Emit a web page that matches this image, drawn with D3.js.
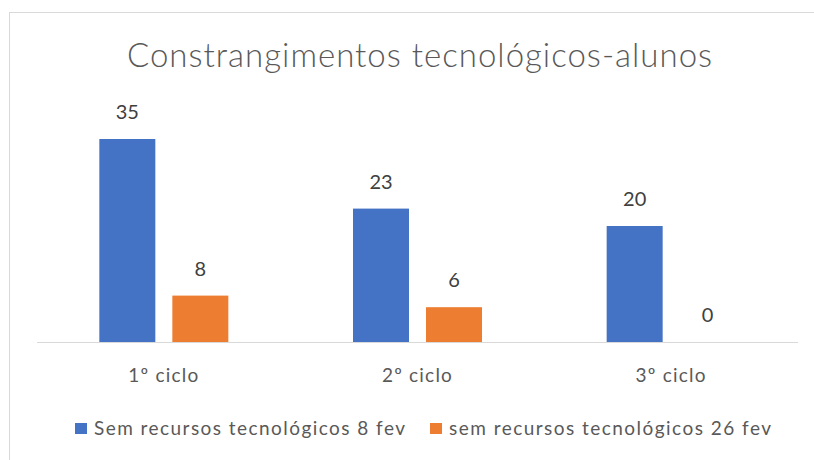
<!DOCTYPE html>
<html>
<head>
<meta charset="utf-8">
<script src="https://cdn.jsdelivr.net/npm/d3@7"></script>
<style>
  body { margin: 0; background: #ffffff; }
  svg { display: block; font-family: Lato, "Open Sans", sans-serif; }
</style>
</head>
<body>
<div id="chart"></div>
<script>
// Chart data
const categories = ["1º ciclo", "2º ciclo", "3º ciclo"];
const seriesNames = ["Sem recursos tecnológicos 8 fev", "sem recursos tecnológicos 26 fev"];
const fev8 = [35, 23, 20];
const fev26 = [8, 6, 0];
const colors = ["#4472C4", "#ED7D31"];

const width = 814, height = 460;
const plot = { left: 37, right: 798, top: 110, bottom: 342 };

const svg = d3.select("#chart").append("svg")
  .attr("width", width)
  .attr("height", height);

// Chart area border (clipped by the picture on the right and bottom).
svg.append("rect")
  .attr("x", 9.5).attr("y", 12.5)
  .attr("width", 900).attr("height", 500)
  .attr("fill", "#ffffff")
  .attr("stroke", "#D9D9D9")
  .attr("stroke-width", 1);

// Title
svg.append("text")
  .attr("x", 420)
  .attr("y", 67)
  .attr("text-anchor", "middle")
  .attr("font-size", "33px")
  .attr("font-weight", 300)
  .attr("letter-spacing", "1px")
  .attr("fill", "#595959")
  .text("Constrangimentos tecnológicos-alunos");

// Scales
const x0 = d3.scaleBand()
  .domain(categories)
  .range([plot.left, plot.right]);
const groupWidth = 129;
const x1 = d3.scaleBand()
  .domain([0, 1])
  .range([(x0.bandwidth() - groupWidth) / 2, (x0.bandwidth() + groupWidth) / 2])
  .paddingInner(0.233);
const y = d3.scaleLinear()
  .domain([0, 40])
  .range([plot.bottom, plot.top]);

const rows = categories.map((c, i) => ({ cat: c, values: [fev8[i], fev26[i]] }));

const groups = svg.selectAll(".group")
  .data(rows)
  .join("g")
  .attr("class", "group")
  .attr("transform", d => `translate(${x0(d.cat)},0)`);

groups.selectAll("rect")
  .data(d => d.values.map((v, s) => ({ v, s })))
  .join("rect")
  .attr("x", d => x1(d.s))
  .attr("y", d => y(d.v))
  .attr("width", x1.bandwidth())
  .attr("height", d => y(0) - y(d.v))
  .attr("fill", d => colors[d.s]);

// Value labels
groups.selectAll(".val")
  .data(d => d.values.map((v, s) => ({ v, s })))
  .join("text")
  .attr("class", "val")
  .attr("x", d => x1(d.s) + x1.bandwidth() / 2)
  .attr("y", d => y(d.v) - 20)
  .attr("text-anchor", "middle")
  .attr("font-size", "20px")
  .attr("fill", "#404040")
  .text(d => d.v);

// Category axis
const xAxis = svg.append("g")
  .attr("transform", `translate(0,${plot.bottom})`)
  .call(d3.axisBottom(x0).tickSize(0).tickPadding(0));
xAxis.select(".domain").attr("stroke", "#D9D9D9").attr("d", `M${plot.left},0.5H${plot.right}`);
xAxis.selectAll(".tick text")
  .attr("y", 40)
  .attr("dy", null)
  .attr("font-family", "Lato, 'Open Sans', sans-serif")
  .attr("font-size", "19px")
  .attr("letter-spacing", "1.2px")
  .attr("fill", "#595959");

// Legend
const legendX = [75, 430];
const legendLen = [311, 322];
const legend = svg.selectAll(".legend")
  .data(seriesNames)
  .join("g")
  .attr("class", "legend")
  .attr("transform", (d, i) => `translate(${legendX[i]},423)`);
legend.append("rect")
  .attr("width", 12).attr("height", 11)
  .attr("fill", (d, i) => colors[i]);
legend.append("text")
  .attr("x", 19)
  .attr("y", 12)
  .attr("font-size", "19px")
  .attr("textLength", (d, i) => legendLen[i])
  .attr("lengthAdjust", "spacing")
  .attr("fill", "#595959")
  .text(d => d);
</script>
</body>
</html>
